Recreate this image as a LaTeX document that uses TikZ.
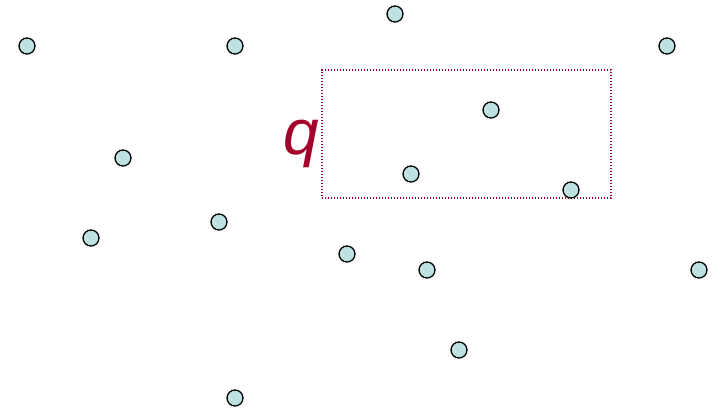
\documentclass[tikz,border=0pt]{standalone}
\usepackage{fontspec}
\setmainfont{Liberation Sans}
\usepackage{xcolor}
\usetikzlibrary{positioning}
\definecolor{qred}{HTML}{A3002A}
\definecolor{ptfill}{HTML}{BEE2E2}

\begin{document}
\begin{tikzpicture}[
    x=1pt, y=-1pt,
    pt/.style={circle, draw=black, line width=1.3pt, fill=ptfill, minimum size=16pt, inner sep=0pt},
    qbox/.style={draw=qred, line width=1.6pt, dash pattern=on 1.4pt off 1.6pt, minimum width=289pt, minimum height=128pt, inner sep=0pt},
    qlabel/.style={text=qred, font=\fontsize{64}{64}\selectfont\itshape, inner sep=0pt}
]
\useasboundingbox (0,0) rectangle (720,412);

% 1. Query range
\node[qbox] (query) at (466.5,134) {};
\node[qlabel, left=2pt of query, yshift=-10pt] (qname) {q};

% 2. Data points
\node[pt] (p1) at (27,46) {};
\node[pt] (p2) at (235,46) {};
\node[pt] (p3) at (395,14) {};
\node[pt] (p4) at (667,46) {};
\node[pt] (p5) at (491,110) {};
\node[pt] (p6) at (123,158) {};
\node[pt] (p7) at (411,174) {};
\node[pt] (p8) at (571,190) {};
\node[pt] (p9) at (91,238) {};
\node[pt] (p10) at (219,222) {};
\node[pt] (p11) at (347,254) {};
\node[pt] (p12) at (427,270) {};
\node[pt] (p13) at (699,270) {};
\node[pt] (p14) at (459,350) {};
\node[pt] (p15) at (235,398) {};

\end{tikzpicture}
\end{document}
